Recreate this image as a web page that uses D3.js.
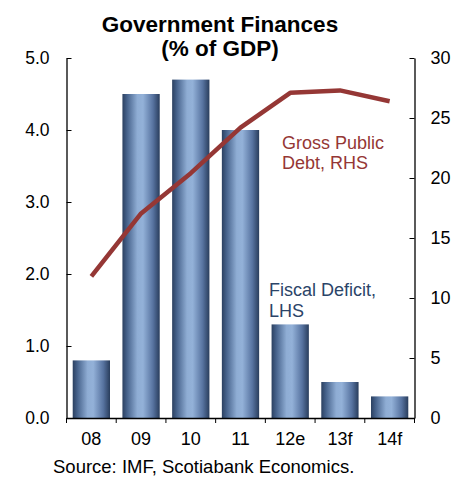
<!DOCTYPE html>
<html>
<head>
<meta charset="utf-8">
<script src="https://cdn.jsdelivr.net/npm/d3@7"></script>
<style>
  body { margin: 0; background: #fff; }
  svg { display: block; font-family: "Liberation Sans", Arial, sans-serif; }
</style>
</head>
<body>
<svg id="chart" width="466" height="477"></svg>
<script>
// Chart data
const categories = ["08", "09", "10", "11", "12e", "13f", "14f"];
const fiscalDeficit = [0.8, 4.5, 4.7, 4.0, 1.3, 0.5, 0.3];      // LHS, % of GDP
const grossPublicDebt = [11.8, 17.05, 20.4, 24.2, 27.1, 27.3, 26.4]; // RHS, % of GDP
const leftTicks = [0, 1, 2, 3, 4, 5];
const rightTicks = [0, 5, 10, 15, 20, 25, 30];

const svg = d3.select("#chart");
const plot = { left: 66.5, right: 414.5, top: 58, bottom: 418 };

const x = d3.scaleBand().domain(categories)
  .range([plot.left, plot.right]).paddingInner(0.25).paddingOuter(0.125);
const yL = d3.scaleLinear().domain([0, 5]).range([plot.bottom, plot.top]);
const yR = d3.scaleLinear().domain([0, 30]).range([plot.bottom, plot.top]);

// Horizontal cylinder-style shading for the bars
const defs = svg.append("defs");
const grad = defs.append("linearGradient").attr("id", "barGrad")
  .attr("x1", "0%").attr("x2", "100%").attr("y1", "0%").attr("y2", "0%");
[["0%", "#2b4060"], ["12%", "#45618a"], ["40%", "#8fadd4"], ["55%", "#93b1d8"],
 ["82%", "#5773a0"], ["100%", "#293d5c"]].forEach(([o, c]) =>
  grad.append("stop").attr("offset", o).attr("stop-color", c));

// Title
const title = svg.append("text").attr("text-anchor", "middle")
  .attr("font-weight", "bold").attr("font-size", 22.5).attr("fill", "#000");
title.append("tspan").attr("x", 220).attr("y", 32).text("Government Finances");
title.append("tspan").attr("x", 220).attr("y", 56).text("(% of GDP)");

// Bars
svg.append("g").selectAll("rect").data(categories).join("rect")
  .attr("x", d => x(d))
  .attr("width", x.bandwidth())
  .attr("y", (d, i) => yL(fiscalDeficit[i]))
  .attr("height", (d, i) => yL(0) - yL(fiscalDeficit[i]))
  .attr("fill", "url(#barGrad)");

// Gross public debt line (RHS)
const line = d3.line()
  .x((d, i) => x(categories[i]) + x.bandwidth() / 2)
  .y(d => yR(d));
svg.append("path").datum(grossPublicDebt)
  .attr("d", line)
  .attr("fill", "none")
  .attr("stroke", "#953735")
  .attr("stroke-width", 4.5)
  .attr("stroke-linejoin", "round");

// Axes
const leftAxis = d3.axisLeft(yL).tickValues(leftTicks)
  .tickFormat(d3.format(".1f")).tickSizeInner(-5).tickSizeOuter(0).tickPadding(17);
const gL = svg.append("g").attr("transform", `translate(${plot.left},0)`).call(leftAxis);

const rightAxis = d3.axisRight(yR).tickValues(rightTicks)
  .tickSizeInner(-5).tickSizeOuter(0).tickPadding(16);
const gR = svg.append("g").attr("transform", `translate(${plot.right},0)`).call(rightAxis);

const bottomAxis = d3.axisBottom(x).tickSize(0).tickPadding(14);
const gB = svg.append("g").attr("transform", `translate(0,${plot.bottom})`).call(bottomAxis);

// Category boundary ticks on the x axis
const step = x.step();
const boundaries = d3.range(categories.length + 1).map(i => plot.left + i * step);
gB.append("g").selectAll("line").data(boundaries).join("line")
  .attr("x1", d => d).attr("x2", d => d).attr("y1", 0).attr("y2", 5)
  .attr("stroke", "#000");

[gL, gR, gB].forEach(g => {
  g.selectAll(".domain").attr("stroke", "#000").attr("stroke-width", 1.3);
  g.selectAll(".tick line").attr("stroke", "#000");
  g.selectAll("text").attr("fill", "#000")
    .attr("font-family", "Liberation Sans, Arial, sans-serif");
});
gL.selectAll("text").attr("font-size", 17.5);
gR.selectAll("text").attr("font-size", 18);
gB.selectAll("text").attr("font-size", 18);

// Series labels
const debtLabel = svg.append("text").attr("fill", "#953735").attr("font-size", 18);
debtLabel.append("tspan").attr("x", 282).attr("y", 149).text("Gross Public");
debtLabel.append("tspan").attr("x", 282).attr("y", 169).text("Debt, RHS");

const deficitLabel = svg.append("text").attr("fill", "#2b4468").attr("font-size", 18);
deficitLabel.append("tspan").attr("x", 269).attr("y", 296).text("Fiscal Deficit,");
deficitLabel.append("tspan").attr("x", 269).attr("y", 317).text("LHS");

// Source note
svg.append("text").attr("x", 53).attr("y", 473).attr("font-size", 18.5)
  .attr("fill", "#000").text("Source: IMF, Scotiabank Economics.");
</script>
</body>
</html>
